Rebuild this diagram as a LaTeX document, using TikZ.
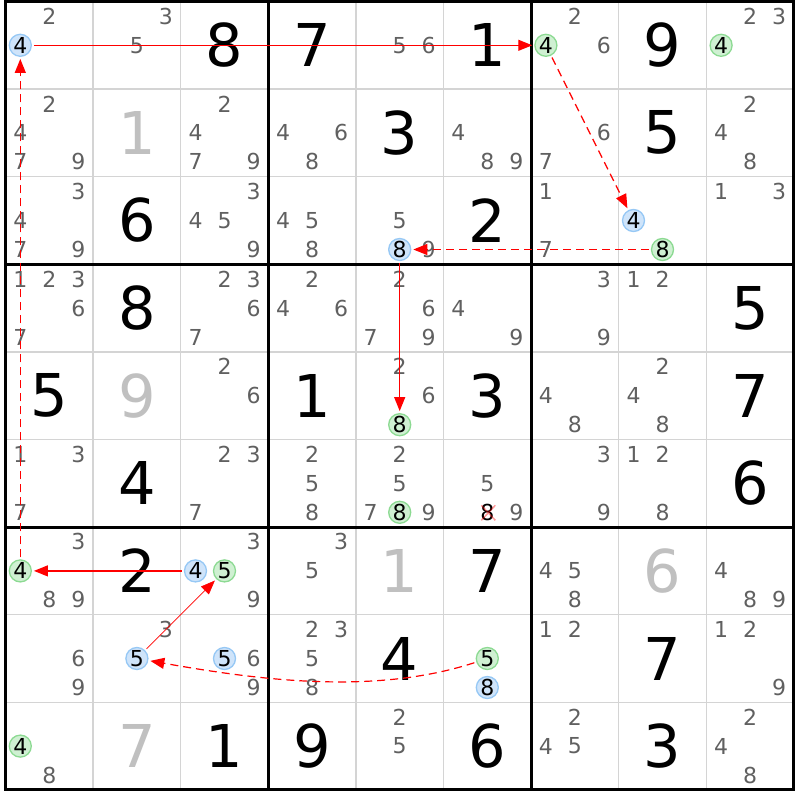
\documentclass[tikz,border=0pt]{standalone}
\usepackage{fontspec}
\setmainfont{DejaVu Sans}
\usetikzlibrary{arrows.meta}
\definecolor{candgray}{RGB}{96,96,96}
\definecolor{solvedgray}{RGB}{192,192,192}
\definecolor{gridgray}{RGB}{212,212,212}
\definecolor{bluefill}{RGB}{207,228,250}
\definecolor{blueedge}{RGB}{150,200,245}
\definecolor{greenfill}{RGB}{207,240,210}
\definecolor{greenedge}{RGB}{140,218,146}
\definecolor{linkred}{RGB}{255,0,0}
% cell (row,col) -> candidates in a 3x3 spot pattern
\newcommand{\cands}[3]{%
	\foreach \d in {#3}
		\node[cand] (r#1c#2d\d) at ({5.5+(#2-0.5)*87.6+(mod(\d-1,3)-1)*29},{1.5+(#1-0.5)*87.6+(floor((\d-1)/3)-1)*29}) {\d};}
\newcommand{\pick}[4]{%
	\node[#1] (r#2c#3d#4) at ({5.5+(#3-0.5)*87.6+(mod(#4-1,3)-1)*29},{1.5+(#2-0.5)*87.6+(floor((#4-1)/3)-1)*29}) {#4};}
\tikzset{
	given/.style={font=\fontsize{59}{59}\selectfont, inner sep=0pt},
	solved/.style={given, text=solvedgray},
	cand/.style={font=\fontsize{22}{22}\selectfont, text=candgray, inner sep=0pt},
	hlblue/.style={cand, text=black, circle, draw=blueedge, fill=bluefill, line width=1.3pt, minimum size=22pt},
	hlgreen/.style={hlblue, draw=greenedge, fill=greenfill},
	struck/.style={cand, text=black},
	xmark/.style={draw=linkred, opacity=0.4, line width=1.5pt},
	strong/.style={draw=linkred, line width=1.2pt, -{Triangle[length=14pt,width=11pt]}, shorten >=2pt, shorten <=2pt},
	weak/.style={strong, dash pattern=on 8pt off 5pt}
}
\begin{document}
\begin{tikzpicture}[x=1pt, y=-1pt]
	\fill[white] (0,0) rectangle (800,800);
	\useasboundingbox (0,0) rectangle (800,800);
	% grid
	\foreach \i in {0,...,9} {
		\draw[gridgray, line width=1.5pt] ({5.5+\i*87.6},1.5) -- ({5.5+\i*87.6},789.9);
		\draw[gridgray, line width=1.5pt] (5.5,{1.5+\i*87.6}) -- (793.9,{1.5+\i*87.6});
	}
	\foreach \i in {0,3,6,9} {
		\draw[line width=3pt] ({5.5+\i*87.6},0) -- ({5.5+\i*87.6},791.4);
		\draw[line width=3pt] (4,{1.5+\i*87.6}) -- (795.4,{1.5+\i*87.6});
	}
	% givens and solved cells
	\foreach \r/\c/\v in {1/3/8,1/4/7,1/6/1,1/8/9,2/5/3,2/8/5,3/2/6,3/6/2,4/2/8,4/9/5,5/1/5,5/4/1,5/6/3,5/9/7,
			6/2/4,6/9/6,7/2/2,7/6/7,8/5/4,8/8/7,9/3/1,9/4/9,9/6/6,9/8/3}
		\node[given] (g\r\c) at ({5.5+(\c-0.5)*87.6},{1.5+(\r-0.5)*87.6}) {\v};
	\foreach \r/\c/\v in {2/2/1,5/2/9,7/5/1,7/8/6,9/2/7}
		\node[solved] (g\r\c) at ({5.5+(\c-0.5)*87.6},{1.5+(\r-0.5)*87.6}) {\v};
	% candidates
	\cands{1}{1}{2} \pick{hlblue}{1}{1}{4}
	\cands{1}{2}{3,5}
	\cands{1}{5}{5,6}
	\cands{1}{7}{2,6} \pick{hlgreen}{1}{7}{4}
	\cands{1}{9}{2,3} \pick{hlgreen}{1}{9}{4}
	\cands{2}{1}{2,4,7,9}
	\cands{2}{3}{2,4,7,9}
	\cands{2}{4}{4,6,8}
	\cands{2}{6}{4,8,9}
	\cands{2}{7}{6,7}
	\cands{2}{9}{2,4,8}
	\cands{3}{1}{3,4,7,9}
	\cands{3}{3}{3,4,5,9}
	\cands{3}{4}{4,5,8}
	\cands{3}{5}{5,9} \pick{hlblue}{3}{5}{8}
	\cands{3}{7}{1,7}
	\pick{hlblue}{3}{8}{4} \pick{hlgreen}{3}{8}{8}
	\cands{3}{9}{1,3}
	\cands{4}{1}{1,2,3,6,7}
	\cands{4}{3}{2,3,6,7}
	\cands{4}{4}{2,4,6}
	\cands{4}{5}{2,6,7,9}
	\cands{4}{6}{4,9}
	\cands{4}{7}{3,9}
	\cands{4}{8}{1,2}
	\cands{5}{3}{2,6}
	\cands{5}{5}{2,6} \pick{hlgreen}{5}{5}{8}
	\cands{5}{7}{4,8}
	\cands{5}{8}{2,4,8}
	\cands{6}{1}{1,3,7}
	\cands{6}{3}{2,3,7}
	\cands{6}{4}{2,5,8}
	\cands{6}{5}{2,5,7,9} \pick{hlgreen}{6}{5}{8}
	\cands{6}{6}{5,9} \pick{struck}{6}{6}{8}
	\cands{6}{7}{3,9}
	\cands{6}{8}{1,2,8}
	\cands{7}{1}{3,8,9} \pick{hlgreen}{7}{1}{4}
	\cands{7}{3}{3,9} \pick{hlblue}{7}{3}{4} \pick{hlgreen}{7}{3}{5}
	\cands{7}{4}{3,5}
	\cands{7}{7}{4,5,8}
	\cands{7}{9}{4,8,9}
	\cands{8}{1}{6,9}
	\cands{8}{2}{3} \pick{hlblue}{8}{2}{5}
	\cands{8}{3}{6,9} \pick{hlblue}{8}{3}{5}
	\cands{8}{4}{2,3,5,8}
	\pick{hlgreen}{8}{6}{5} \pick{hlblue}{8}{6}{8}
	\cands{8}{7}{1,2}
	\cands{8}{9}{1,2,9}
	\cands{9}{1}{8} \pick{hlgreen}{9}{1}{4}
	\cands{9}{5}{2,5}
	\cands{9}{7}{2,4,5}
	\cands{9}{9}{2,4,8}
	% eliminated candidate
	\draw[xmark] ([shift={(-6,-7)}]r6c6d8.center) -- ([shift={(8,8)}]r6c6d8.center)
		([shift={(-6,8)}]r6c6d8.center) -- ([shift={(8,-7)}]r6c6d8.center);
	% chain
	\draw[strong] (r1c1d4) -- (r1c7d4);
	\draw[weak] (r1c7d4) -- (r3c8d4);
	\draw[weak] (r3c8d8) -- (r3c5d8);
	\draw[strong] (r3c5d8) -- (r5c5d8);
	\draw[weak] (r8c6d5) to[out=198, in=-10, looseness=0.85] (r8c2d5);
	\draw[strong, line width=0.6pt] (r8c2d5) -- (r7c3d5);
	\draw[strong] (r7c3d4) -- (r7c1d4);
	\draw[weak] (r7c1d4) -- (r1c1d4);
\end{tikzpicture}
\end{document}
